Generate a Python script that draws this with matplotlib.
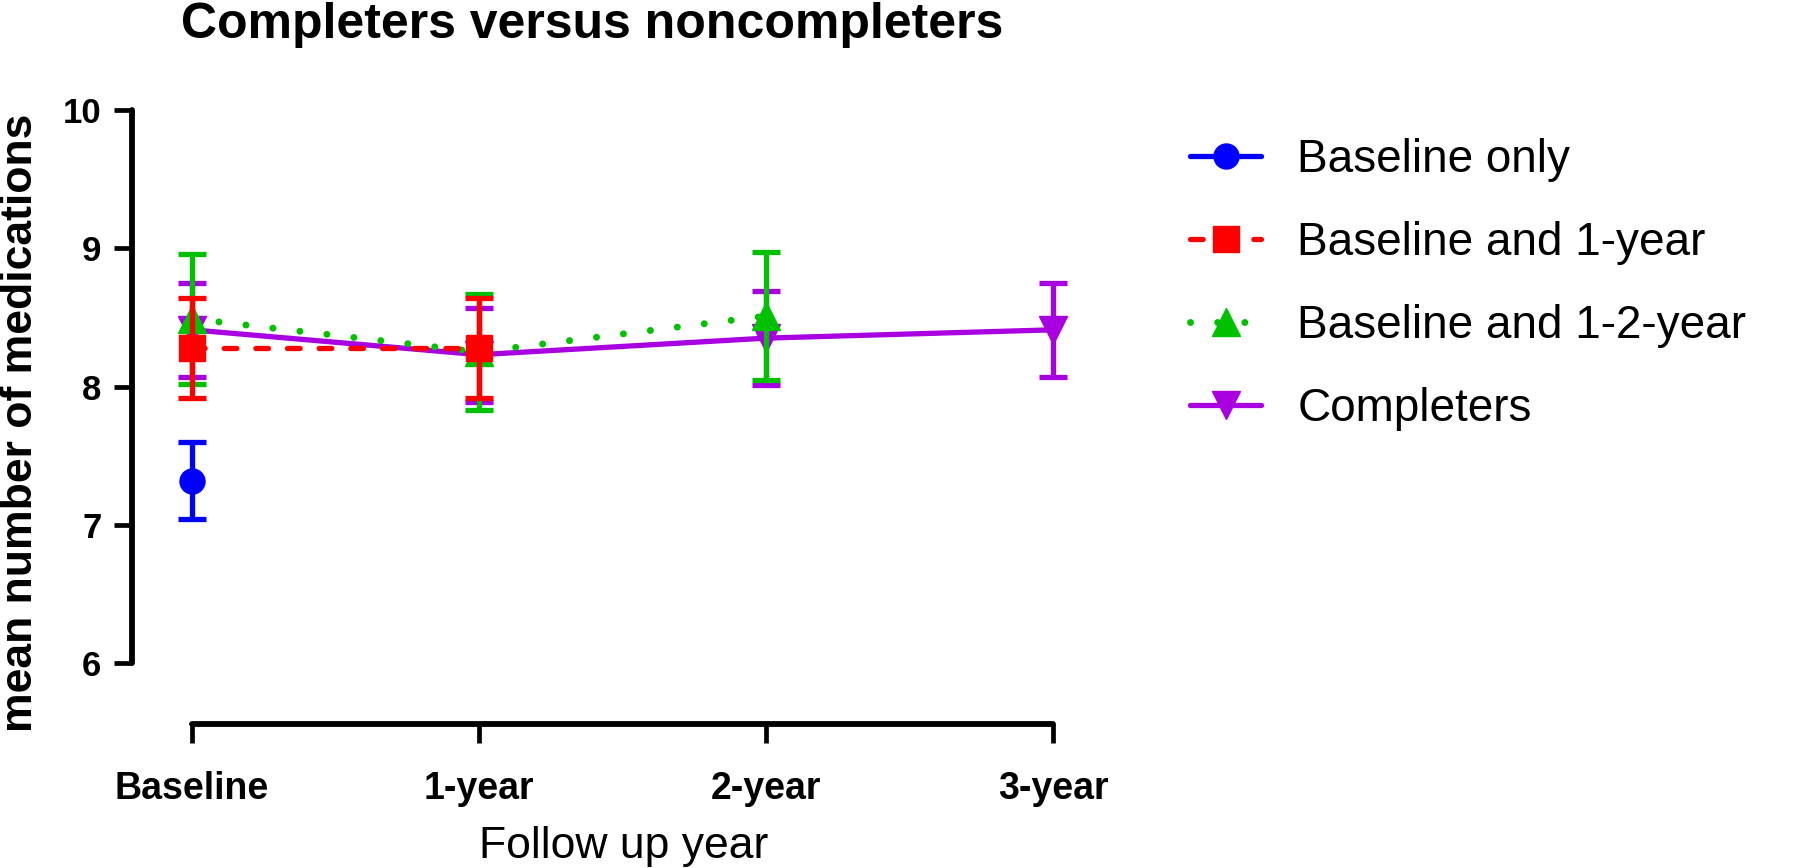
import matplotlib.pyplot as plt
from matplotlib.lines import Line2D

plt.rcParams['font.family'] = ['Liberation Sans', 'DejaVu Sans']

years = ["Baseline", "1-year", "2-year", "3-year"]

# mean number of medications and error (SEM) per group
base_only = [7.32]
base_only_err = [0.28]

base_1y = [8.28, 8.28]
base_1y_err = [0.36, 0.36]

base_12y = [8.49, 8.25, 8.51]
base_12y_err = [0.47, 0.42, 0.46]

completers = [8.41, 8.23, 8.35, 8.41]
completers_err = [0.34, 0.34, 0.34, 0.34]

labels = ["Baseline only", "Baseline and 1-year", "Baseline and 1-2-year", "Completers"]
colores = ["#0000FF", "#FF0000", "#00C000", "#A800E0"]
marcadores = ["o", "s", "^", "v"]
tamanos = [18, 19, 20, 20]
lw = 3.8
grosor = [lw, lw, 5.0, lw]
estilos = ["-", (0, (2.4, 3.6)), (0, (0.01, 3.9)), "-"]

series = [(base_only, base_only_err), (base_1y, base_1y_err),
          (base_12y, base_12y_err), (completers, completers_err)]

fig = plt.figure(figsize=(17.94, 8.68), dpi=100)
ax = fig.add_axes([132/1794, 0.1659, 0.5294, 0.7233])

# draw completers first so the others sit on top
for i in [3, 2, 1, 0]:
    vals, err = series[i]
    x = list(range(len(vals)))
    ax.errorbar(x, vals, yerr=err, color=colores[i], linestyle="none",
                elinewidth=lw, capsize=10, capthick=lw, zorder=2 + (3 - i))
    ln, = ax.plot(x, vals, color=colores[i], linestyle=estilos[i], lw=grosor[i],
                  marker=marcadores[i], markersize=tamanos[i], zorder=2 + (3 - i))
    ln.set_dash_capstyle("round")
    ln.set_solid_capstyle("round")

ax.set_xlim(-0.209, 3.1)
ax.set_ylim(5.559, 10.1)

ax.spines['top'].set_visible(False)
ax.spines['right'].set_visible(False)
ax.spines['left'].set_bounds(6, 10)
ax.spines['bottom'].set_bounds(0, 3)
for s in ['left', 'bottom']:
    ax.spines[s].set_linewidth(4.2)
    ax.spines[s].set_capstyle("round")

ax.set_yticks([6, 7, 8, 9, 10])
ax.set_xticks(range(4))
ax.set_xticklabels(years)
ax.tick_params(axis='y', length=13, width=3.4, pad=9, labelsize=25)
ax.tick_params(axis='x', length=14, width=3.4, pad=20, labelsize=27)
for t in ax.get_xticklabels() + ax.get_yticklabels():
    t.set_fontweight('bold')

fig.text(21/1794, 1 - 423/868, "mean number of medications", rotation=90,
         ha='center', va='center', fontsize=32, fontweight='bold')
fig.text(624/1794, 1 - 858/868, "Follow up year", ha='center', va='baseline',
         fontsize=32)
fig.text(592/1794, 1 - 38/868, "Completers versus noncompleters",
         ha='center', va='baseline', fontsize=36, fontweight='bold')

handles = []
for i in range(4):
    h = Line2D([0], [0], color=colores[i], linestyle=estilos[i], lw=grosor[i],
               marker=marcadores[i], markersize=tamanos[i],
               dash_capstyle="round", solid_capstyle="round")
    handles.append(h)

fig.legend(handles, labels, loc='upper left', bbox_to_anchor=(1190/1794, 1 - 138/868),
           frameon=False, fontsize=33, handlelength=1.55, handletextpad=0.79,
           labelspacing=0.85, borderpad=0, borderaxespad=0)

plt.savefig("out.png", dpi=100)
